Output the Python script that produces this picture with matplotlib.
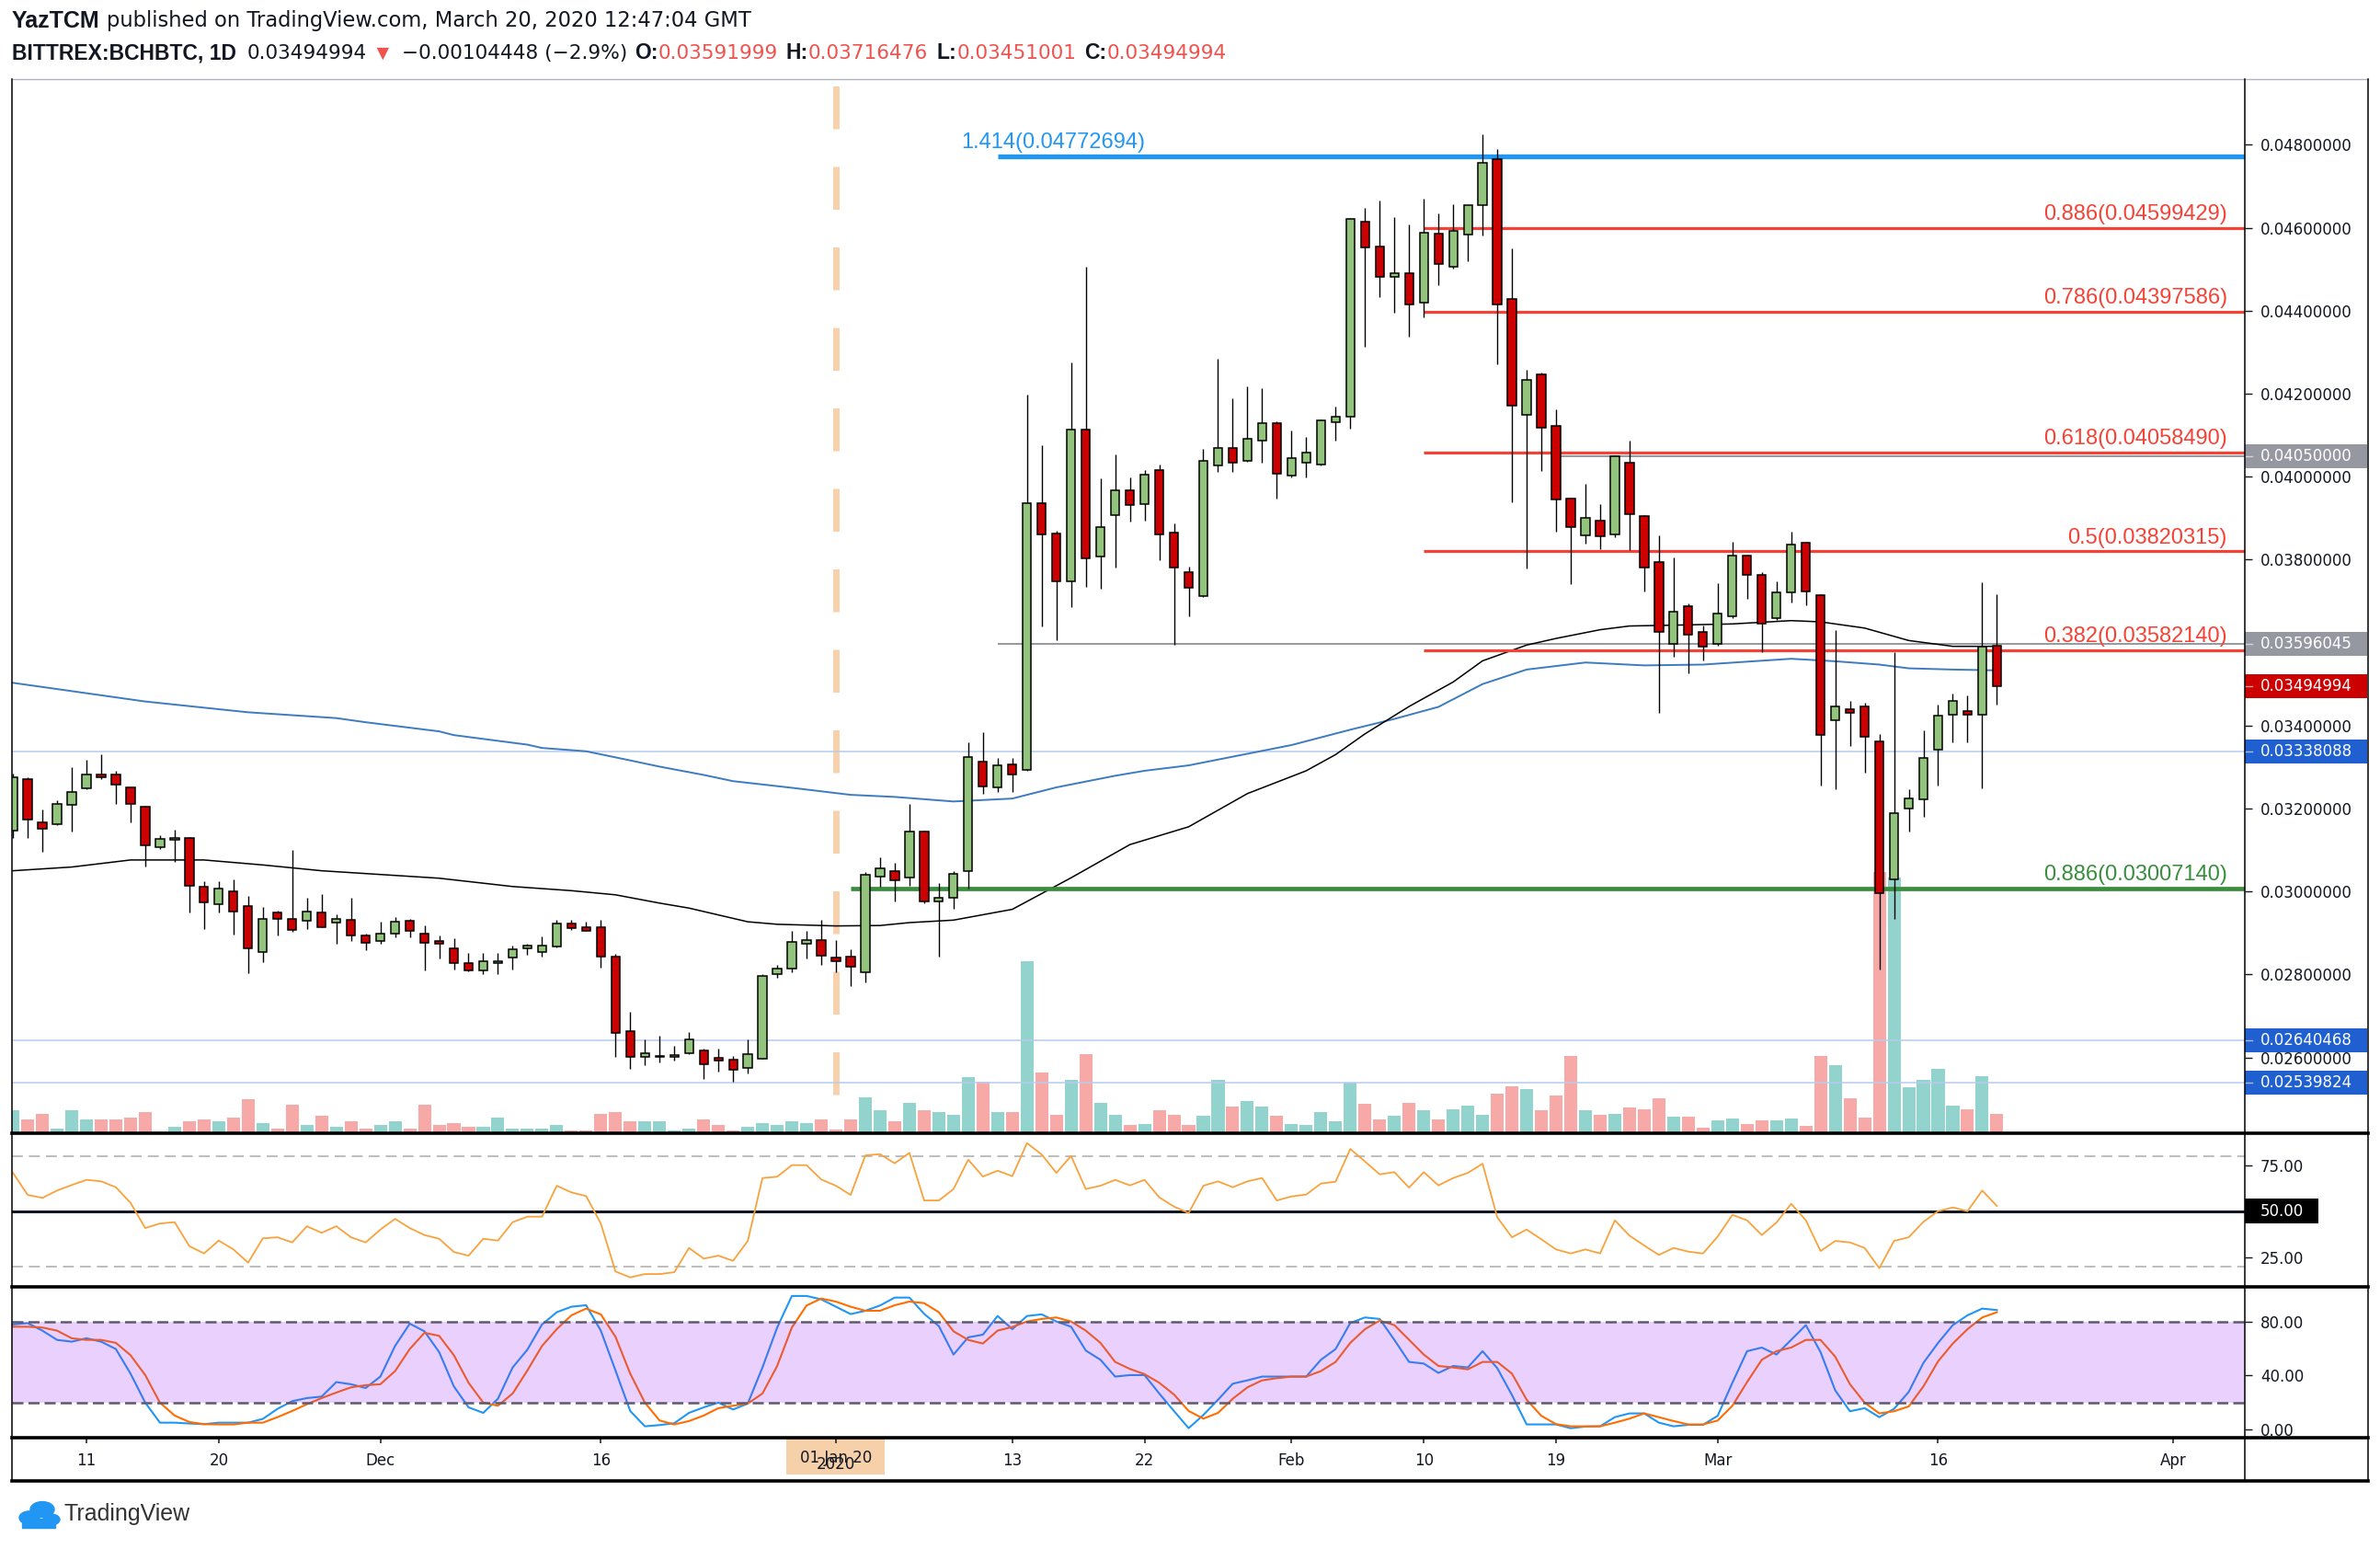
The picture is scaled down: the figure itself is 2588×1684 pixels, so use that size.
"""
BCH/BTC daily chart, TradingView style: candles, volume, MAs, fib levels,
RSI and stochastic panes.
"""
import numpy as np
import pandas as pd
import matplotlib
matplotlib.use('Agg')
import matplotlib.pyplot as plt
import matplotlib.dates as mdates
import matplotlib.transforms as mtransforms
from matplotlib.patches import Rectangle, Circle
from matplotlib.lines import Line2D

W, H, DPI = 2588, 1684, 100

# ---------------- data ----------------
dates = pd.date_range('2019-11-06', '2020-03-20', freq='D')

opens = [
    # Nov 6 - Nov 30
    0.03146, 0.03272, 0.03166, 0.03163, 0.03209, 0.03249, 0.03281, 0.03281, 0.03250, 0.03205,
    0.03106, 0.03124, 0.03130, 0.03011, 0.02969, 0.03001, 0.02966, 0.02853, 0.02949, 0.02935,
    0.02929, 0.02949, 0.02925, 0.02931, 0.02895,
    # Dec
    0.02881, 0.02899, 0.02930, 0.02899, 0.02881, 0.02864, 0.02828, 0.02809, 0.02827, 0.02841,
    0.02862, 0.02854, 0.02867, 0.02922, 0.02913, 0.02913, 0.02842, 0.02664, 0.02601, 0.02601,
    0.02602, 0.02610, 0.02616, 0.02598, 0.02594, 0.02575, 0.02597, 0.02800, 0.02814, 0.02875,
    0.02882,
    # Jan
    0.02841, 0.02842, 0.02806, 0.03037, 0.03050, 0.03033, 0.03144, 0.02975, 0.02984, 0.03049,
    0.03312, 0.03251, 0.03306, 0.03294, 0.03937, 0.03863, 0.03747, 0.04113, 0.03808, 0.03907,
    0.03968, 0.03934, 0.04017, 0.03866, 0.03769, 0.03713, 0.04026, 0.04070, 0.04038, 0.04087,
    0.04128,
    # Feb
    0.04003, 0.04033, 0.04029, 0.04131, 0.04144, 0.04615, 0.04554, 0.04482, 0.04491, 0.04419,
    0.04585, 0.04507, 0.04584, 0.04655, 0.04766, 0.04428, 0.04149, 0.04247, 0.04123, 0.03948,
    0.03858, 0.03893, 0.03861, 0.04034, 0.03905, 0.03794, 0.03596, 0.03687, 0.03626,
    # Mar
    0.03596, 0.03663, 0.03809, 0.03764, 0.03660, 0.03720, 0.03841, 0.03715, 0.03413, 0.03440,
    0.03445, 0.03361, 0.03030, 0.03200, 0.03222, 0.03342, 0.03427, 0.03436, 0.03427, 0.03592,
]
highs = [
    0.03285, 0.03275, 0.03198, 0.03220, 0.03300, 0.03317, 0.03331, 0.03290, 0.03252, 0.03207,
    0.03136, 0.03149, 0.03132, 0.03024, 0.03024, 0.03029, 0.02989, 0.02963, 0.02953, 0.03100,
    0.02984, 0.02993, 0.02944, 0.02984, 0.02899,
    0.02927, 0.02939, 0.02935, 0.02918, 0.02895, 0.02887, 0.02852, 0.02852, 0.02852, 0.02869,
    0.02875, 0.02892, 0.02931, 0.02931, 0.02927, 0.02931, 0.02850, 0.02710, 0.02643, 0.02652,
    0.02629, 0.02662, 0.02621, 0.02621, 0.02603, 0.02643, 0.02800, 0.02822, 0.02904, 0.02904,
    0.02932,
    0.02882, 0.02860, 0.03046, 0.03082, 0.03070, 0.03211, 0.03146, 0.03021, 0.03049, 0.03359,
    0.03384, 0.03322, 0.03322, 0.04198, 0.04076, 0.03870, 0.04276, 0.04506, 0.03996, 0.04054,
    0.03999, 0.04017, 0.04030, 0.03888, 0.03784, 0.04066, 0.04284, 0.04190, 0.04218, 0.04214,
    0.04134,
    0.04111, 0.04095, 0.04137, 0.04168, 0.04623, 0.04648, 0.04665, 0.04626, 0.04607, 0.04670,
    0.04634, 0.04656, 0.04655, 0.04826, 0.04789, 0.04550, 0.04257, 0.04250, 0.04162, 0.03950,
    0.03982, 0.03933, 0.04052, 0.04086, 0.03908, 0.03858, 0.03806, 0.03695, 0.03641,
    0.03743, 0.03842, 0.03811, 0.03769, 0.03747, 0.03868, 0.03844, 0.03717, 0.03631, 0.03459,
    0.03454, 0.03380, 0.03578, 0.03247, 0.03389, 0.03450, 0.03478, 0.03473, 0.03746, 0.03716,
]
lows = [
    0.03130, 0.03128, 0.03096, 0.03159, 0.03145, 0.03247, 0.03270, 0.03212, 0.03167, 0.03061,
    0.03102, 0.03072, 0.02950, 0.02910, 0.02950, 0.02897, 0.02804, 0.02830, 0.02893, 0.02902,
    0.02910, 0.02914, 0.02875, 0.02880, 0.02858,
    0.02875, 0.02889, 0.02889, 0.02809, 0.02839, 0.02813, 0.02808, 0.02800, 0.02800, 0.02813,
    0.02848, 0.02843, 0.02866, 0.02907, 0.02904, 0.02817, 0.02601, 0.02573, 0.02582, 0.02587,
    0.02592, 0.02609, 0.02547, 0.02566, 0.02542, 0.02561, 0.02596, 0.02791, 0.02805, 0.02839,
    0.02822,
    0.02806, 0.02773, 0.02782, 0.03012, 0.02977, 0.03014, 0.02972, 0.02842, 0.02959, 0.03008,
    0.03236, 0.03240, 0.03240, 0.03290, 0.03638, 0.03605, 0.03685, 0.03734, 0.03731, 0.03780,
    0.03891, 0.03894, 0.03798, 0.03595, 0.03664, 0.03710, 0.04011, 0.04011, 0.04036, 0.04033,
    0.03947,
    0.03999, 0.03999, 0.04028, 0.04086, 0.04116, 0.04312, 0.04432, 0.04395, 0.04338, 0.04383,
    0.04462, 0.04502, 0.04519, 0.04581, 0.04271, 0.03938, 0.03779, 0.04014, 0.03868, 0.03740,
    0.03839, 0.03826, 0.03855, 0.03824, 0.03723, 0.03430, 0.03566, 0.03527, 0.03558,
    0.03592, 0.03660, 0.03705, 0.03576, 0.03655, 0.03697, 0.03690, 0.03256, 0.03247, 0.03350,
    0.03287, 0.02813, 0.02933, 0.03144, 0.03180, 0.03256, 0.03359, 0.03359, 0.03249, 0.03451,
]
closes = [
    0.03275, 0.03173, 0.03151, 0.03210, 0.03241, 0.03281, 0.03275, 0.03257, 0.03212, 0.03111,
    0.03126, 0.03130, 0.03014, 0.02974, 0.03006, 0.02952, 0.02863, 0.02935, 0.02934, 0.02907,
    0.02952, 0.02915, 0.02935, 0.02893, 0.02876,
    0.02899, 0.02927, 0.02904, 0.02876, 0.02873, 0.02827, 0.02809, 0.02833, 0.02833, 0.02860,
    0.02869, 0.02869, 0.02922, 0.02912, 0.02906, 0.02844, 0.02660, 0.02601, 0.02611, 0.02604,
    0.02605, 0.02643, 0.02583, 0.02592, 0.02570, 0.02607, 0.02797, 0.02815, 0.02878, 0.02882,
    0.02845,
    0.02832, 0.02819, 0.03041, 0.03055, 0.03028, 0.03144, 0.02975, 0.02984, 0.03042, 0.03325,
    0.03254, 0.03304, 0.03281, 0.03937, 0.03861, 0.03747, 0.04113, 0.03804, 0.03878, 0.03968,
    0.03932, 0.04005, 0.03861, 0.03781, 0.03732, 0.04038, 0.04070, 0.04033, 0.04091, 0.04128,
    0.04007,
    0.04044, 0.04057, 0.04136, 0.04145, 0.04621, 0.04553, 0.04482, 0.04491, 0.04415, 0.04589,
    0.04513, 0.04592, 0.04655, 0.04757, 0.04414, 0.04171, 0.04234, 0.04118, 0.03946, 0.03878,
    0.03901, 0.03856, 0.04049, 0.03910, 0.03782, 0.03626, 0.03675, 0.03618, 0.03591,
    0.03670, 0.03809, 0.03764, 0.03646, 0.03720, 0.03836, 0.03723, 0.03378, 0.03445, 0.03431,
    0.03373, 0.02997, 0.03188, 0.03224, 0.03322, 0.03424, 0.03459, 0.03427, 0.03590, 0.03495,
]
# volume in relative units (bar height)
volume = [
    24, 14, 20, 4, 24, 14, 14, 14, 16, 22, 1, 6, 12, 14, 12, 16, 36, 10, 4, 30, 8, 18, 6, 12, 4,
    8, 12, 4, 30, 8, 10, 6, 6, 16, 4, 4, 4, 8, 2, 2, 20, 22, 12, 12, 12, 2, 4, 14, 8, 2, 6, 10,
    8, 12, 10, 14,
    3, 14, 38, 24, 12, 32, 24, 22, 19, 60, 55, 22, 22, 186, 65, 19, 57, 85, 32, 19, 8, 9, 24,
    19, 8, 18, 57, 28, 34, 28, 18,
    9, 8, 22, 12, 54, 31, 14, 18, 32, 24, 14, 25, 29, 19, 42, 50, 47, 24, 40, 83, 24, 19, 20,
    27, 25, 37, 17, 17, 5,
    13, 15, 9, 13, 13, 15, 7, 83, 73, 37, 16, 283, 277, 49, 57, 69, 29, 25, 61, 20,
]
rsi = [
    70.8, 58.8, 57.2, 61.2, 64.2, 67.0, 66.2, 63.0, 54.5, 40.8, 43.3, 44.0, 31.0, 27.0, 34.0,
    29.2, 22.0, 35.2, 35.8, 33.0, 41.8, 38.2, 41.8, 35.8, 33.0,
    40.0, 45.8, 40.8, 37.0, 35.0, 27.8, 25.8, 35.0, 34.0, 44.0, 47.0, 47.0, 63.8, 60.2, 58.2,
    43.3, 17.2, 14.0, 15.8, 15.8, 16.8, 30.0, 24.2, 25.8, 23.0, 33.8, 68.0, 68.7, 75.0, 75.0,
    67.2,
    63.8, 58.8, 80.3, 81.0, 76.0, 81.7, 55.8, 55.8, 62.0, 78.0, 68.8, 72.0, 69.0, 87.0, 80.8,
    70.8, 80.0, 62.0, 63.8, 67.0, 64.0, 67.0, 57.5, 52.5, 49.0, 63.8, 66.2, 63.0, 66.2, 68.0,
    55.8,
    58.0, 59.0, 65.0, 66.0, 83.8, 77.0, 70.0, 71.2, 62.8, 71.2, 64.0, 68.0, 70.8, 75.8, 46.7,
    35.8, 40.0, 34.7, 29.2, 27.0, 29.2, 27.0, 45.0, 36.7, 31.3, 26.2, 30.0, 28.0, 27.0,
    36.2, 48.0, 45.0, 37.0, 43.8, 54.0, 45.0, 28.3, 33.8, 33.0, 30.0, 19.0, 33.8, 35.8, 44.2,
    50.0, 52.0, 50.0, 61.2, 52.8,
]
stoch_k = [
    78.0, 79.0, 73.4, 66.5, 65.2, 67.7, 65.2, 59.7, 41.4, 19.8, 4.9, 4.9, 4.3, 3.8, 4.9, 4.9,
    4.9, 7.7, 15.2, 20.9, 23.2, 24.3, 35.1, 33.5, 30.7,
    39.2, 62.0, 78.6, 72.9, 57.4, 31.9, 16.3, 12.2, 22.7, 46.0, 59.2, 78.0, 87.1, 91.2, 92.3,
    73.4, 43.7, 13.6, 2.2, 3.1, 4.5, 12.2, 16.3, 19.8, 14.7, 19.1, 46.0, 75.7, 99.2, 99.2, 96.7,
    91.2, 85.7, 88.2, 92.1, 98.0, 98.0, 85.9, 76.8, 55.6, 68.4, 70.4, 84.3, 74.5, 84.3, 85.5,
    80.2, 76.3, 58.6, 51.7, 39.2, 40.3, 40.3, 26.6, 13.6, 0.8, 10.6, 22.0, 33.9, 36.4, 39.2,
    39.2,
    39.2, 39.2, 51.7, 59.7, 79.1, 83.2, 82.1, 66.5, 50.1, 48.9, 41.9, 47.1, 46.0, 58.1, 45.5,
    25.5, 3.6, 3.6, 3.6, 0.8, 2.0, 2.2, 9.0, 11.8, 11.8, 4.9, 2.2, 3.3, 3.3,
    10.0, 34.6, 58.1, 60.8, 55.6, 66.5, 77.5, 57.4, 28.9, 13.4, 15.7, 9.0, 15.2, 27.8, 49.4,
    64.3, 77.5, 84.8, 89.8, 88.7,
]
stoch_d = [
    76.3, 76.3, 75.7, 73.4, 67.7, 66.5, 66.5, 64.3, 55.1, 40.3, 19.8, 10.2, 5.4, 3.8, 3.6, 3.6,
    4.9, 4.9, 9.0, 13.6, 18.6, 23.2, 27.3, 31.2, 32.8,
    33.5, 43.3, 59.7, 71.8, 69.5, 55.1, 34.6, 19.8, 17.5, 26.6, 43.7, 62.0, 74.5, 84.8, 89.8,
    85.5, 68.8, 41.4, 19.8, 6.5, 3.6, 6.1, 10.2, 15.7, 17.5, 19.1, 26.6, 47.1, 75.7, 92.1, 97.3,
    95.0, 91.2, 88.2, 88.2, 92.3, 95.0, 93.9, 87.1, 72.9, 66.5, 63.8, 73.4, 76.1, 80.2, 82.1,
    83.2, 80.2, 73.4, 64.3, 50.1, 44.9, 41.0, 34.6, 25.9, 13.6, 7.9, 12.2, 22.7, 31.2, 36.4,
    38.0,
    39.2, 39.2, 43.3, 50.1, 64.3, 74.5, 80.9, 77.5, 66.5, 55.6, 47.1, 46.0, 44.6, 50.1, 50.1,
    41.4, 22.0, 10.0, 3.8, 2.2, 2.2, 2.2, 4.9, 7.9, 11.8, 9.0, 6.1, 3.6, 3.6,
    6.5, 17.5, 35.1, 51.7, 58.1, 60.8, 66.5, 66.5, 54.0, 33.5, 19.8, 11.8, 13.4, 17.0, 31.9,
    50.6, 63.8, 74.5, 83.2, 87.1,
]

# moving averages
ma_black_dates = [
    '2019-11-06', '2019-11-10', '2019-11-14', '2019-11-19', '2019-11-23', '2019-11-27',
    '2019-12-01', '2019-12-05', '2019-12-10', '2019-12-14', '2019-12-17', '2019-12-20',
    '2019-12-22', '2019-12-26', '2019-12-28', '2020-01-01', '2020-01-04', '2020-01-06',
    '2020-01-09', '2020-01-13', '2020-01-17', '2020-01-21', '2020-01-25', '2020-01-29',
    '2020-02-02', '2020-02-04', '2020-02-06', '2020-02-08', '2020-02-09', '2020-02-12',
    '2020-02-14', '2020-02-17', '2020-02-19', '2020-02-22', '2020-02-24', '2020-02-27',
    '2020-03-02', '2020-03-06', '2020-03-08', '2020-03-11', '2020-03-14', '2020-03-17',
    '2020-03-20',
]
ma_black = [
    0.03050, 0.03059, 0.03076, 0.03076, 0.03064, 0.03050, 0.03041, 0.03032, 0.03012, 0.03002,
    0.02992, 0.02972, 0.02960, 0.02927, 0.02921, 0.02917, 0.02918, 0.02925, 0.02931, 0.02957,
    0.03033, 0.03113, 0.03156, 0.03236, 0.03291, 0.03330, 0.03380, 0.03424, 0.03446, 0.03505,
    0.03556, 0.03594, 0.03610, 0.03631, 0.03640, 0.03642, 0.03645, 0.03653, 0.03650, 0.03635,
    0.03605, 0.03591, 0.03591,
]
ma_blue_dates = [
    '2019-11-06', '2019-11-15', '2019-11-22', '2019-11-28', '2019-11-30', '2019-12-05',
    '2019-12-06', '2019-12-11', '2019-12-12', '2019-12-15', '2019-12-18', '2019-12-20',
    '2019-12-23', '2019-12-25', '2019-12-29', '2020-01-02', '2020-01-05', '2020-01-09',
    '2020-01-13', '2020-01-16', '2020-01-20', '2020-01-22', '2020-01-25', '2020-01-29',
    '2020-02-01', '2020-02-05', '2020-02-08', '2020-02-11', '2020-02-14', '2020-02-17',
    '2020-02-21', '2020-02-25', '2020-02-29', '2020-03-06', '2020-03-09', '2020-03-12',
    '2020-03-14', '2020-03-17', '2020-03-20',
]
ma_blue = [
    0.03503, 0.03458, 0.03432, 0.03418, 0.03408, 0.03386, 0.03377, 0.03354, 0.03346, 0.03338,
    0.03316, 0.03301, 0.03281, 0.03266, 0.03250, 0.03233, 0.03228, 0.03217, 0.03224, 0.03251,
    0.03279, 0.03291, 0.03304, 0.03332, 0.03353, 0.03390, 0.03416, 0.03445, 0.03500, 0.03535,
    0.03552, 0.03545, 0.03547, 0.03561, 0.03555, 0.03547, 0.03538, 0.03535, 0.03533,
]

fib_red = [('0.886', 0.04599429), ('0.786', 0.04397586), ('0.618', 0.04058490),
           ('0.5', 0.03820315), ('0.382', 0.03582140)]
fib_blue = ('1.414', 0.04772694)
fib_green = ('0.886', 0.03007140)
support_lines = [0.03338088, 0.02640468, 0.02539824]
gray_rays = [(0.04050000, '2020-02-19'), (0.03596045, '2020-01-12')]
axis_marks = [(0.04050000, 'gray'), (0.03596045, 'gray'), (0.03494994, 'red'),
              (0.03338088, 'blue'), (0.02640468, 'blue'), (0.02539824, 'blue')]

time_ticks = ['2019-11-11', '2019-11-20', '2019-12-01', '2019-12-16', '2020-01-01',
              '2020-01-13', '2020-01-22', '2020-02-01', '2020-02-10', '2020-02-19',
              '2020-03-01', '2020-03-16', '2020-04-01']
time_labels = ['11', '20', 'Dec', '16', '', '13', '22', 'Feb', '10', '19', 'Mar', '16', 'Apr']

# ---------------- style ----------------
DARK = '#131722'
UP, DOWN = '#93c47d', '#cc0000'
VOL_UP, VOL_DOWN = '#93d3cd', '#f7a9a7'
FIB_RED, FIB_BLUE, FIB_GREEN = '#f44336', '#2196f3', '#388e3c'
BOX = {'gray': '#9598a1', 'red': '#cc0000', 'blue': '#1f5fd0'}
TXT = ['Liberation Sans', 'DejaVu Sans']
WIDE = ['DejaVu Sans']
AXF = 'DejaVu Sans'

# pixel layout
LEFT, RIGHT, OUTER = 13, 2441, 2575
TOP, MAIN_B = 86, 1231
RSI_T, RSI_B = 1233, 1398
ST_T, ST_B = 1400, 1562
TIME_B = 1610


def fx(px):
    return px / W


def fy(py):
    return 1 - py / H


def rect(t, b):
    return [fx(LEFT), fy(b), (RIGHT - LEFT) / W, (b - t) / H]


def dnum(s):
    return mdates.date2num(pd.Timestamp(s))


fig = plt.figure(figsize=(W / DPI, H / DPI), dpi=DPI)
fig.patch.set_facecolor('white')

x = mdates.date2num(dates)
o, h, l, c = map(np.array, (opens, highs, lows, closes))
up = c >= o
x0 = dnum('2019-11-11')
XMIN, XMAX = x0 - 5.07, x0 + 146.87

# ---------------- main pane ----------------
ax = fig.add_axes(rect(TOP, MAIN_B))
vax = ax.twinx()
ax.set_zorder(vax.get_zorder() + 1)
ax.patch.set_visible(False)
vax.set_axis_off()

vax.bar(x, volume, width=0.88, color=np.where(up, VOL_UP, VOL_DOWN), linewidth=0)
vax.set_ylim(0, MAIN_B - TOP)
vax.set_xlim(XMIN, XMAX)

ax.set_xlim(XMIN, XMAX)
ax.set_ylim(0.024195, 0.049583)

# vertical dashed marker at the new year
ax.axvline(dnum('2020-01-01'), color='#f7d1ab', lw=5.0, linestyle=(6.7, (6.7, 5.9)),
           zorder=1)

for y in support_lines:
    ax.axhline(y, color='#b7cbee', lw=1.1, zorder=2)
for y, start in gray_rays:
    ax.hlines(y, dnum(start), XMAX, color='#9598a1', lw=1.4, zorder=2)

ax.plot(mdates.date2num(pd.to_datetime(ma_blue_dates)), ma_blue, color='#3d7bc0', lw=1.4, zorder=2)
ax.plot(mdates.date2num(pd.to_datetime(ma_black_dates)), ma_black, color='black', lw=1.1, zorder=2)

# fib levels
fib_start = dnum('2020-02-10')
label_x = x0 + 145.68
for name, y in fib_red:
    ax.hlines(y, fib_start, XMAX, color=FIB_RED, lw=2.3, zorder=2.5)
    ax.annotate(f'{name}({y:.8f})', (label_x, y), xytext=(0, 2.5), textcoords='offset points',
                ha='right', va='bottom', color=FIB_RED, fontsize=17, family=TXT, zorder=6)
ax.hlines(fib_green[1], dnum('2020-01-02'), XMAX, color=FIB_GREEN, lw=3.4, zorder=2.5)
ax.annotate(f'{fib_green[0]}({fib_green[1]:.8f})', (label_x, fib_green[1]), xytext=(0, 3),
            textcoords='offset points', ha='right', va='bottom', color=FIB_GREEN,
            fontsize=17, family=TXT, zorder=6)
ax.hlines(fib_blue[1], dnum('2020-01-12'), XMAX, color=FIB_BLUE, lw=3.8, zorder=2.5)
ax.annotate(f'{fib_blue[0]}({fib_blue[1]:.8f})', (x0 + 59.5, fib_blue[1]), xytext=(0, 3),
            textcoords='offset points', ha='left', va='bottom', color=FIB_BLUE,
            fontsize=17, family=TXT, zorder=6)

# candles
ax.vlines(x, l, h, color='black', lw=1.0, zorder=3)
body_lo = np.minimum(o, c)
body_h = np.maximum(np.abs(c - o), 0.000012)
ax.bar(x, body_h, bottom=body_lo, width=0.58, color=np.where(up, UP, DOWN),
       edgecolor='black', linewidth=1.1, zorder=4)

# price axis
ax.yaxis.tick_right()
ax.set_yticks(np.arange(0.026, 0.04801, 0.002))
ax.set_yticklabels([f'{v:.8f}' for v in np.arange(0.026, 0.04801, 0.002)])
ax.tick_params(axis='y', length=5.8, width=1.0, pad=6.5, labelsize=12, colors=DARK)
ax.set_xticks([])
for lab in ax.get_yticklabels():
    lab.set_family(AXF)
for s in ax.spines.values():
    s.set_visible(False)


def axis_box(a, y, text, fc, h_px=26):
    trans = mtransforms.blended_transform_factory(a.transAxes, a.transData)
    y0, y1 = a.get_ylim()
    hd = h_px * (y1 - y0) / (a.get_position().height * H)
    bw = (OUTER - RIGHT - 1) / (RIGHT - LEFT)
    a.add_patch(Rectangle((1.0, y - hd / 2), bw, hd, transform=trans, fc=fc, ec='none',
                          clip_on=False, zorder=20))
    a.plot([1.0, 1.0 + 8 / (RIGHT - LEFT)], [y, y], transform=trans, color='white',
           alpha=0.6, lw=1.0, clip_on=False, zorder=21)
    a.text(1.0 + 17 / (RIGHT - LEFT), y, text, transform=trans, color='white', fontsize=12,
           family=AXF, va='center', ha='left', clip_on=False, zorder=21)


for y, kind in axis_marks:
    axis_box(ax, y, f'{y:.8f}', BOX[kind])

# ---------------- RSI pane ----------------
ax_r = fig.add_axes(rect(RSI_T, RSI_B))
ax_r.set_xlim(XMIN, XMAX)
ax_r.set_ylim(9.35, 91.85)
ax_r.plot(x, rsi, color='#f9a23b', lw=1.3, zorder=3)
for lvl in (80, 20):
    ax_r.axhline(lvl, color='#bdbdbd', lw=1.4, dashes=(6.1, 3.4), zorder=2)
ax_r.axhline(50, color=DARK, lw=2.2, zorder=2)
ax_r.yaxis.tick_right()
ax_r.set_yticks([25, 75])
ax_r.set_yticklabels(['25.00', '75.00'])
ax_r.tick_params(axis='y', length=5.8, width=1.0, pad=6.5, labelsize=12, colors=DARK)
ax_r.set_xticks([])
for lab in ax_r.get_yticklabels():
    lab.set_family(AXF)
for s in ax_r.spines.values():
    s.set_visible(False)
trans_r = mtransforms.blended_transform_factory(ax_r.transAxes, ax_r.transData)
hd = 27 * (91.85 - 9.35) / (ax_r.get_position().height * H)
ax_r.add_patch(Rectangle((1.0, 50 - hd / 2), 80 / (RIGHT - LEFT), hd, transform=trans_r,
                         fc='black', ec='none', clip_on=False, zorder=20))
ax_r.text(1.0 + 17 / (RIGHT - LEFT), 50, '50.00', transform=trans_r, color='white',
          fontsize=12, family=AXF, va='center', ha='left', clip_on=False, zorder=21)

# ---------------- Stochastic pane ----------------
ax_s = fig.add_axes(rect(ST_T, ST_B))
ax_s.set_xlim(XMIN, XMAX)
ax_s.set_ylim(-5.6, 105.3)
ax_s.plot(x, stoch_k, color='#2196f3', lw=1.5, zorder=3)
ax_s.plot(x, stoch_d, color='#ff6d00', lw=1.5, zorder=3)
ax_s.axhspan(20, 80, color=(150 / 255, 20 / 255, 240 / 255), alpha=0.2, lw=0, zorder=5)
for lvl in (80, 20):
    ax_s.axhline(lvl, color='#5d5a6b', lw=1.8, dashes=(4.8, 2.2), zorder=6)
ax_s.yaxis.tick_right()
ax_s.set_yticks([0, 40, 80])
ax_s.set_yticklabels(['0.00', '40.00', '80.00'])
ax_s.tick_params(axis='y', length=5.8, width=1.0, pad=6.5, labelsize=12, colors=DARK)
ax_s.set_xticks([dnum(t) for t in time_ticks])
ax_s.set_xticklabels(time_labels)
ax_s.tick_params(axis='x', length=5, width=1.1, pad=7.5, labelsize=12, colors=DARK)
for lab in ax_s.get_yticklabels() + ax_s.get_xticklabels():
    lab.set_family(AXF)
for s in ax_s.spines.values():
    s.set_visible(False)

# new-year label on the time axis: TradingView draws the date badge over "2020"
jan1 = dnum('2020-01-01')
trans_t = mtransforms.blended_transform_factory(ax_s.transData, fig.transFigure)
ax_s.add_patch(Rectangle((jan1 - 3.4, fy(1603)), 6.7, (1603 - 1563) / H, transform=trans_t,
                         fc='#f5d0a9', ec='none', clip_on=False, zorder=1))
ax_s.text(jan1, fy(1592), '2020', transform=trans_t, ha='center', va='center', fontsize=12,
          family=AXF, color=DARK, clip_on=False, zorder=2)
ax_s.text(jan1, fy(1585), '01 Jan 20', transform=trans_t, ha='center', va='center',
          fontsize=12, family=AXF, color=DARK, clip_on=False, zorder=2)

# ---------------- frame lines ----------------
def fline(x1, y1, x2, y2, color='black', lw=1.0):
    fig.add_artist(Line2D([fx(x1), fx(x2)], [fy(y1), fy(y2)], color=color, lw=lw))


fline(LEFT, TOP, OUTER, TOP, color='#b2b5be', lw=1.0)
fline(LEFT, TOP, LEFT, TIME_B, lw=1.1)
fline(RIGHT, TOP, RIGHT, TIME_B, lw=1.1)
fline(OUTER, TOP, OUTER, TIME_B, lw=1.1)
for yy in (1232, 1399, 1563, TIME_B):
    fline(LEFT, yy, OUTER, yy, lw=2.6)

# ---------------- header ----------------
renderer = fig.canvas.get_renderer()


def text_runs(x_px, y_px, runs):
    for txt, color, weight, fam, size, gap in runs:
        t = fig.text(fx(x_px), fy(y_px), txt, fontsize=size, color=color, fontweight=weight,
                     family=fam, ha='left', va='center')
        x_px += t.get_window_extent(renderer).width + gap


RED_TXT = '#ef5350'
B, R = 'bold', 'normal'
text_runs(13, 23, [('YazTCM', DARK, B, TXT, 18, 7),
                   ('published on TradingView.com, March 20, 2020 12:47:04 GMT', DARK, R, WIDE,
                    16.3, 0)])
text_runs(13, 58, [('BITTREX:BCHBTC, 1D', DARK, B, TXT, 16.5, 12),
                   ('0.03494994', DARK, R, WIDE, 15.6, 5),
                   ('\u25bc', RED_TXT, R, TXT, 16.5, 10),
                   ('\u22120.00104448 (\u22122.9%)', DARK, R, WIDE, 15.6, 8),
                   ('O:', DARK, B, TXT, 16.5, 0), ('0.03591999', RED_TXT, R, WIDE, 15.6, 9),
                   ('H:', DARK, B, TXT, 16.5, 0), ('0.03716476', RED_TXT, R, WIDE, 15.6, 9),
                   ('L:', DARK, B, TXT, 16.5, 0), ('0.03451001', RED_TXT, R, WIDE, 15.6, 9),
                   ('C:', DARK, B, TXT, 16.5, 0), ('0.03494994', RED_TXT, R, WIDE, 15.6, 0)])

# TradingView badge
for cx, cy, r in [(32, 1650, 11), (46, 1641, 13), (56, 1652, 9)]:
    fig.add_artist(Circle((fx(cx), fy(cy)), r / W, color='#2196f3',
                          transform=fig.transFigure))
fig.add_artist(Rectangle((fx(24), fy(1661)), 36 / W, 10 / H, color='#2196f3',
                         transform=fig.transFigure))
fig.text(fx(70), fy(1646), 'TradingView', fontsize=18, color='#333333', family=TXT,
         ha='left', va='center')

fig.savefig('out.png', dpi=DPI)
